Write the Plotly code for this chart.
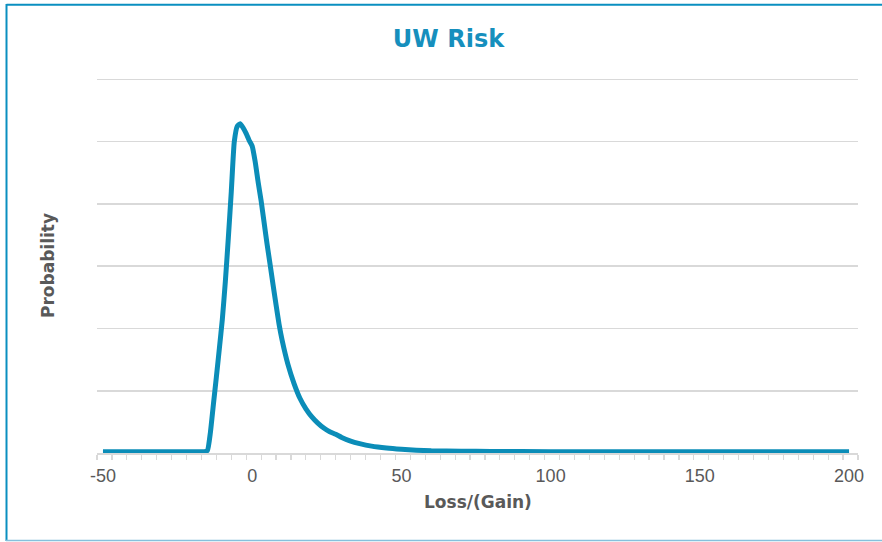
import plotly.graph_objects as go

# Data (probability density, arbitrary units)
loss = [-50, -40, -30, -20, -16, -15, -14, -13, -12, -11, -10, -9, -8, -7, -6, -5,
        -4, -3, -2, -1, 0, 1, 2, 3, 4, 5, 6, 7, 8, 9, 10, 12, 14, 16, 18, 20, 22,
        24, 26, 28, 30, 33, 36, 40, 45, 50, 55, 60, 70, 80, 100, 120, 140, 160, 180, 200]
prob = [0.02, 0.02, 0.02, 0.02, 0.02, 0.04, 0.33, 0.78, 1.22, 1.68, 2.15, 2.75, 3.45, 4.2, 5.0, 5.25,
        5.29, 5.22, 5.13, 5.02, 4.93, 4.68, 4.35, 4.05, 3.7, 3.35, 3.03, 2.7, 2.38, 2.07, 1.82, 1.42, 1.12, 0.88, 0.71, 0.58, 0.48,
        0.4, 0.34, 0.3, 0.25, 0.19, 0.15, 0.11, 0.08, 0.06, 0.045, 0.035, 0.03, 0.025, 0.02, 0.02, 0.02, 0.02, 0.02, 0.02]

x_tick_vals = [-50, 0, 50, 100, 150, 200]
x_tick_text = ["-50", "0", "50", "100", "150", "200"]

title_text = "UW Risk"
x_title = "Loss/(Gain)"
y_title = "Probability"

LINE_COLOR = "#0b8db8"
TITLE_COLOR = "#168fbd"
GRAY_TEXT = "#595959"
GRID = "#d9d9d9"

W, H = 882, 542
ML, MR, MT, MB = 97, 24, 76, 89
PW, PH = W - ML - MR, H - MT - MB
Y_TOP = 6.056


def px2x(px):
    return (px - ML) / PW


def py2y(py):
    return (H - MB - py) / PH


fig = go.Figure()
fig.add_trace(go.Scatter(
    x=loss, y=prob, mode="lines",
    line=dict(color=LINE_COLOR, width=5, shape="spline", smoothing=0.5),
    hoverinfo="skip", showlegend=False,
))

fig.update_layout(
    width=W, height=H,
    margin=dict(l=ML, r=MR, t=MT, b=MB),
    paper_bgcolor="white", plot_bgcolor="white",
    font=dict(family="Liberation Sans, Arial, sans-serif", color=GRAY_TEXT),
    title=dict(
        text=title_text, x=448.5 / W, xanchor="center",
        yref="container", y=1 - 38.5 / H, yanchor="middle",
        font=dict(family="DejaVu Sans, Arial, sans-serif", size=24, color=TITLE_COLOR, weight="bold"),
    ),
    xaxis=dict(
        range=[-52, 203], showgrid=False, zeroline=False,
        showline=True, linecolor=GRID, linewidth=1.5,
        tickvals=x_tick_vals, ticktext=x_tick_text, ticks="",
        tickfont=dict(size=18, color=GRAY_TEXT), ticklabelstandoff=6,
        minor=dict(ticks="outside", ticklen=5, tickcolor=GRID, tickwidth=1.2,
                   tick0=-52, dtick=5, showgrid=False),
    ),
    yaxis=dict(
        range=[0, Y_TOP], dtick=1, showgrid=True, gridcolor=GRID, gridwidth=1.5,
        zeroline=False, showticklabels=False, ticks="", showline=False,
    ),
    annotations=[
        dict(text=x_title, xref="paper", yref="paper", x=0.5, y=py2y(501.5),
             xanchor="center", yanchor="middle", showarrow=False,
             font=dict(family="DejaVu Sans, Arial, sans-serif", size=17, color=GRAY_TEXT, weight="bold")),
        dict(text=y_title, xref="paper", yref="paper", x=px2x(48), y=py2y(265),
             xanchor="center", yanchor="middle", showarrow=False, textangle=-90,
             font=dict(family="DejaVu Sans, Arial, sans-serif", size=17, color=GRAY_TEXT, weight="bold")),
    ],
    shapes=[
        dict(type="line", xref="paper", yref="paper", x0=px2x(6.5), x1=px2x(900),
             y0=py2y(4.8), y1=py2y(4.8), line=dict(color="#0a8fc0", width=2)),
        dict(type="line", xref="paper", yref="paper", x0=px2x(6.5), x1=px2x(6.5),
             y0=py2y(4), y1=py2y(541), line=dict(color="#0a8fc0", width=2)),
        dict(type="line", xref="paper", yref="paper", x0=px2x(6), x1=px2x(900),
             y0=py2y(540.5), y1=py2y(540.5), line=dict(color="#86c0dc", width=1.5)),
    ],
)

fig.write_html("out.html", config={"displayModeBar": False, "staticPlot": True},
               post_script="document.body.style.margin='0';document.body.style.overflow='hidden';")
